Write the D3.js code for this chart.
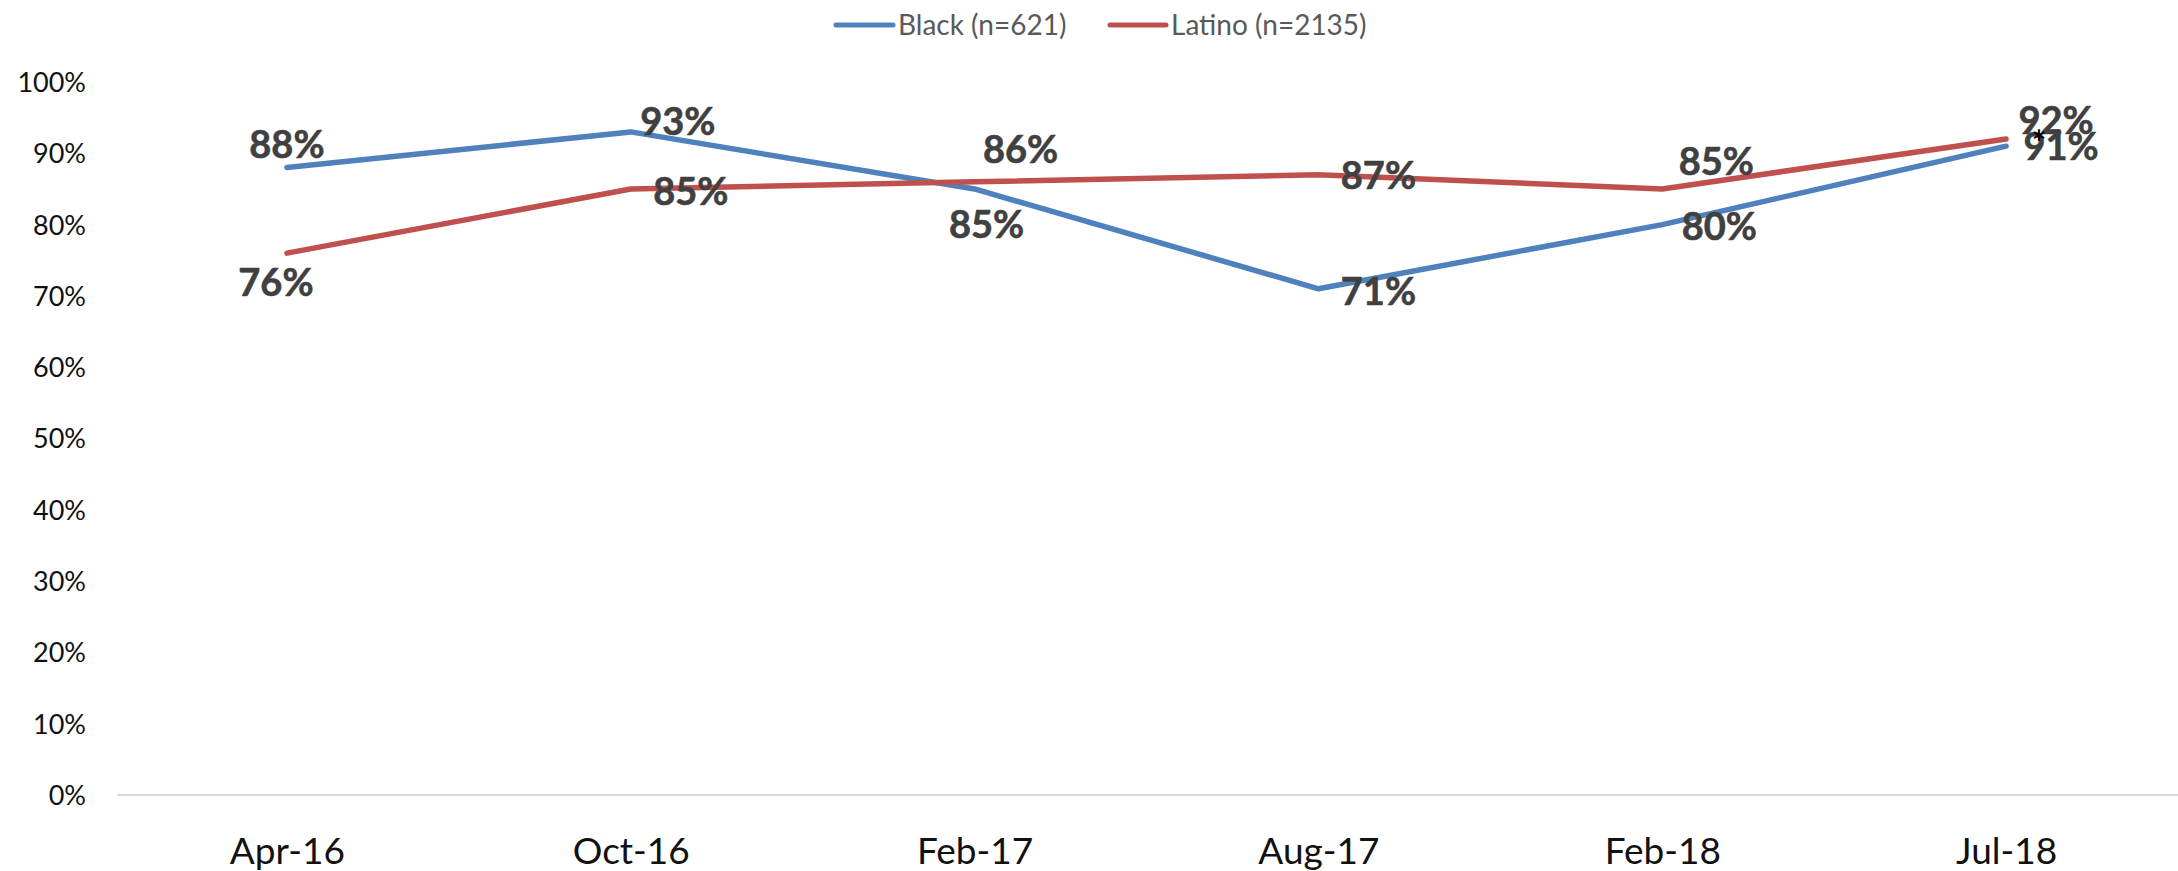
<!DOCTYPE html>
<html>
<head>
<meta charset="utf-8">
<script src="https://cdn.jsdelivr.net/npm/d3@7"></script>
<style>
  html, body { margin: 0; padding: 0; background: #ffffff; }
  svg { display: block; }
  text { font-family: Lato, "Open Sans", sans-serif; }
</style>
</head>
<body>
<svg id="chart" width="2178" height="871"></svg>
<script>
// Survey waves
const categories = ["Apr-16", "Oct-16", "Feb-17", "Aug-17", "Feb-18", "Jul-18"];

// Share of respondents, per wave (percent)
const blackValues  = [88, 93, 85, 71, 80, 91];
const latinoValues = [76, 85, 86, 87, 85, 92];

// Legend entries
const seriesNames = ["Black (n=621)", "Latino (n=2135)"];

// Y-axis ticks (percent)
const yTicks = [0, 10, 20, 30, 40, 50, 60, 70, 80, 90, 100];

const W = 2178, H = 871;
const svg = d3.select("#chart");

const x = d3.scalePoint().domain(categories).range([115, 2178]).padding(0.5);
const y = d3.scaleLinear().domain([0, 100]).range([795, 82]);

const colors = ["#4F81BD", "#C0504D"];

// Baseline
svg.append("line")
  .attr("x1", 117).attr("x2", W)
  .attr("y1", y(0)).attr("y2", y(0))
  .attr("stroke", "#d9d9d9").attr("stroke-width", 2);

// Y axis labels
const yAxis = d3.axisLeft(y)
  .tickValues(yTicks)
  .tickSize(0)
  .tickPadding(0)
  .tickFormat(d => d + "%");
const yg = svg.append("g").attr("transform", "translate(86,0)").call(yAxis);
yg.select(".domain").remove();
yg.selectAll("text")
  .attr("font-family", "Lato, sans-serif")
  .attr("font-size", 27)
  .attr("fill", "#111111")
  .attr("dy", "0.35em");

// X axis labels
const xAxis = d3.axisBottom(x).tickSize(0).tickPadding(0);
const xg = svg.append("g").attr("transform", "translate(0,851)").call(xAxis);
xg.select(".domain").remove();
xg.selectAll("text")
  .attr("font-family", "Lato, sans-serif")
  .attr("font-size", 37)
  .attr("fill", "#111111")
  .attr("dy", "0.36em");

// Lines
const series = [
  { name: seriesNames[0], values: blackValues, color: colors[0] },
  { name: seriesNames[1], values: latinoValues, color: colors[1] }
];

const line = d3.line()
  .x((d, i) => x(categories[i]))
  .y(d => y(d));

series.forEach(s => {
  svg.append("path")
    .datum(s.values)
    .attr("fill", "none")
    .attr("stroke", s.color)
    .attr("stroke-width", 5.5)
    .attr("stroke-linejoin", "round")
    .attr("stroke-linecap", "round")
    .attr("d", line);
});

// Data label placement relative to each point (dx, dy to the label centre)
const labelOffsets = [
  [[0, -23], [47, -11], [12, 35], [60, 3], [57, 2], [55, 0]],
  [[-11, 29], [60, 2], [46, -33], [60, 1], [54, -28], [50, -19]]
];

series.forEach((s, si) => {
  svg.append("g").selectAll("text")
    .data(s.values)
    .join("text")
    .attr("x", (d, i) => x(categories[i]) + labelOffsets[si][i][0])
    .attr("y", (d, i) => y(d) + labelOffsets[si][i][1])
    .attr("dy", "0.36em")
    .attr("text-anchor", "middle")
    .attr("font-family", "Lato, sans-serif")
    .attr("font-weight", "bold")
    .attr("font-size", 38)
    .attr("fill", "#404040")
    .attr("stroke", "#404040")
    .attr("stroke-width", 0.6)
    .text(d => d + "%");
});

// Significance marker on the last wave
svg.append("text")
  .attr("x", x(categories[5]) + 33)
  .attr("y", y(blackValues[5]) - 8)
  .attr("dy", "0.5em")
  .attr("text-anchor", "middle")
  .attr("font-family", "Lato, sans-serif")
  .attr("font-weight", "bold")
  .attr("font-size", 34)
  .attr("fill", "#000000")
  .text("*");

// Legend
const legend = svg.append("g");
const legendItems = [
  { x1: 836, x2: 893, tx: 898 },
  { x1: 1110, x2: 1166, tx: 1171 }
];
series.forEach((s, i) => {
  const li = legendItems[i];
  legend.append("line")
    .attr("x1", li.x1).attr("x2", li.x2)
    .attr("y1", 25).attr("y2", 25)
    .attr("stroke", s.color)
    .attr("stroke-width", 5)
    .attr("stroke-linecap", "round");
  legend.append("text")
    .attr("x", li.tx)
    .attr("y", 25)
    .attr("dy", "0.35em")
    .attr("font-family", "Lato, sans-serif")
    .attr("font-size", 28)
    .attr("fill", "#595959")
    .text(s.name);
});
</script>
</body>
</html>
